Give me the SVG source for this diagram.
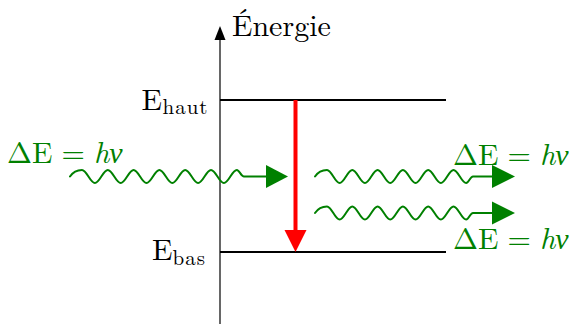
<svg xmlns="http://www.w3.org/2000/svg" width="580" height="324" viewBox="0 0 580 324">
<style>
.g { fill: #008000; }
.it { font-style: italic; }
.sub { letter-spacing: 1px; }
.lvl { stroke: #000; stroke-width: 2; fill: none; }
.wave { stroke: #008000; stroke-width: 2; fill: none; stroke-linecap: round; }
.ghead { fill: #008000; }
</style>
<rect width="580" height="324" fill="#fff"/>

<g id="axis">
  <line x1="220" y1="324" x2="220" y2="38" stroke="#000" stroke-width="1.2"/>
  <polygon points="220,26 214.5,40 225.5,40" fill="#000"/>
  <text font-family="'Latin Modern Roman', 'Liberation Serif', serif" font-size="30" x="232" y="36">Énergie</text>
</g>

<g id="level-haut">
  <line class="lvl" x1="220" y1="100" x2="446" y2="100"/>
  <text font-family="'Latin Modern Roman', 'Liberation Serif', serif" font-size="30" x="141.5" y="110">E<tspan class="sub" font-size="21" x="162.5" y="113.5">haut</tspan></text>
</g>

<g id="level-bas">
  <line class="lvl" x1="220" y1="252" x2="446" y2="252"/>
  <text font-family="'Latin Modern Roman', 'Liberation Serif', serif" font-size="30" x="152" y="260">E<tspan class="sub" font-size="21" x="172.5" y="264.5">bas</tspan></text>
</g>

<g id="connectors">
  <g id="photon-in">
    <path class="wave" d="M70,176.5 C73,172 77,170 82,170 C86.69,170 90.21,183 94.9,183 S103.11,170 107.8,170 S116.01,183 120.7,183 S128.91,170 133.6,170 S141.81,183 146.5,183 S154.71,170 159.4,170 S167.61,183 172.3,183 S180.51,170 185.2,170 S193.41,183 198.1,183 S206.31,170 211,170 S219.21,183 223.9,183 S232.11,170 236.8,170 C239.5,170 241,176.5 244,176.5 L267,176.5"/>
    <polygon class="ghead" points="266,165 288,176.5 266,188"/>
  </g>
  <g id="photon-out-1">
    <path class="wave" d="M315,176.5 C318,172 322,170 327,170 C331.6,170 335.05,183 339.65,183 S347.7,170 352.3,170 S360.35,183 364.95,183 S373,170 377.6,170 S385.65,183 390.25,183 S398.3,170 402.9,170 S410.95,183 415.55,183 S423.6,170 428.2,170 S436.25,183 440.85,183 S448.9,170 453.5,170 S461.55,183 466.15,183 C469,183 470,176.5 473,176.5 L493,176.5"/>
    <polygon class="ghead" points="492,165 515,176.5 492,188"/>
  </g>
  <g id="photon-out-2" transform="translate(0,36.5)">
    <path class="wave" d="M315,176.5 C318,172 322,170 327,170 C331.6,170 335.05,183 339.65,183 S347.7,170 352.3,170 S360.35,183 364.95,183 S373,170 377.6,170 S385.65,183 390.25,183 S398.3,170 402.9,170 S410.95,183 415.55,183 S423.6,170 428.2,170 S436.25,183 440.85,183 S448.9,170 453.5,170 S461.55,183 466.15,183 C469,183 470,176.5 473,176.5 L493,176.5"/>
    <polygon class="ghead" points="492,165 515,176.5 492,188"/>
  </g>
  <g id="transition">
    <line x1="295.5" y1="100" x2="295.5" y2="232" stroke="#ff0000" stroke-width="4"/>
    <polygon points="284.5,230 306.5,230 295.5,252" fill="#ff0000"/>
  </g>
</g>

<g id="label-in">
  <text font-family="'Latin Modern Roman', 'Liberation Serif', serif" font-size="30" class="g" x="7" y="163.3">ΔE<tspan x="61.5">=</tspan><tspan class="it" x="94">hν</tspan></text>
</g>
<g id="label-out-1">
  <text font-family="'Latin Modern Roman', 'Liberation Serif', serif" font-size="30" class="g" x="453" y="165">ΔE<tspan x="507.5">=</tspan><tspan class="it" x="540">hν</tspan></text>
</g>
<g id="label-out-2">
  <text font-family="'Latin Modern Roman', 'Liberation Serif', serif" font-size="30" class="g" x="453" y="249">ΔE<tspan x="507.5">=</tspan><tspan class="it" x="540">hν</tspan></text>
</g>
</svg>
